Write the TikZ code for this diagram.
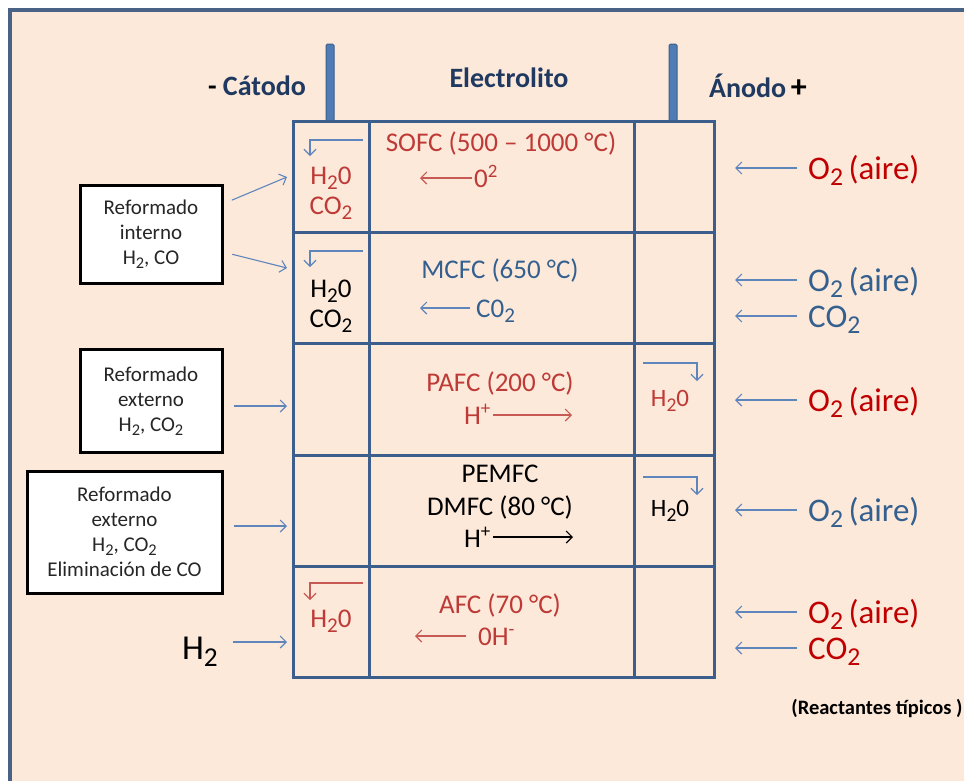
\documentclass[tikz,border=0pt]{standalone}
\usepackage{fontspec}
\usepackage{graphicx}
\setmainfont{Carlito}
\usetikzlibrary{arrows.meta,positioning}

\definecolor{fondo}{HTML}{FDE9DA}
\definecolor{marco}{HTML}{4A6285}
\definecolor{rejilla}{HTML}{3C5E8C}
\definecolor{poste}{HTML}{4F7CB5}
\definecolor{titulo}{HTML}{1F3960}
\definecolor{rojo}{HTML}{C00000}
\definecolor{rojocelda}{HTML}{BE3A36}
\definecolor{azultexto}{HTML}{34608F}
\definecolor{flechaazul}{HTML}{5F86BC}
\definecolor{flecharoja}{HTML}{C85A56}

% subíndice al estilo de Calibri (más grande y más bajo)
\newcommand{\bajo}[1]{\raisebox{-0.42ex}{\scalebox{0.78}{#1}}}

\begin{document}
\begin{tikzpicture}[
        x=1pt, y=-1pt,
        font=\fontsize{27}{30}\selectfont,
        cell/.style={draw=rejilla, line width=3pt, inner sep=0pt, anchor=north west, minimum height=111.2pt},
        reformbox/.style={draw=black, line width=3pt, fill=white, align=center, text=black!85, inner sep=0pt, font=\fontsize{21}{25}\selectfont},
        header/.style={font=\bfseries\fontsize{28}{30}\selectfont, text=titulo},
        reactivo/.style={font=\fontsize{33}{36}\selectfont, anchor=base west, inner sep=2pt},
        ion/.style={anchor=base west, inner sep=2pt},
        flecha/.style={-{Straight Barb[length=6pt,width=12pt]}, draw=flechaazul, line width=1.1pt},
        flecharoja/.style={flecha, draw=flecharoja},
    ]

    % Fondo y marco
    \useasboundingbox (0,0) rectangle (964,780);
    \fill[white] (0,0) rectangle (964,780);
    \fill[fondo] (10,10) rectangle (970,790);
    \draw[marco, line width=4pt] (10,790) |- (970,10);

    % Bornes de la pila
    \draw[rejilla, fill=poste, line width=1pt, rounded corners=1.5pt] (326,44) rectangle (334,121);
    \draw[rejilla, fill=poste, line width=1pt, rounded corners=1.5pt] (669,44) rectangle (677,121);

    % Rejilla: cátodo / electrolito / ánodo para cada pila
    \foreach \r in {1,...,5} {
        \pgfmathsetmacro{\ytop}{120 + 111.2*(\r-1)}
        \node[cell, minimum width=76pt] (cat-\r) at (292,\ytop) {};
        \node[cell, minimum width=265pt] (ele-\r) at (368,\ytop) {};
        \node[cell, minimum width=80pt] (ano-\r) at (633,\ytop) {};
    }

    % Títulos
    \node[header] (catodo) at (257,86) {\textcolor{black}{-} Cátodo};
    \node[header] (electrolito) at (509,78) {Electrolito};
    \node[header] (anodo) at (758,86) {Ánodo\,\textcolor{black}{\fontsize{32}{30}\selectfont +}};

    % SOFC
    \node[text=rojocelda] (sofc) at (501,143) {SOFC (500 – 1000 °C)};
    \node[ion, text=rojocelda] (sofc-ion) at (472,187) {0\textsuperscript{2}};
    \coordinate (sofc-fin) at (420,178);
    \draw[flecharoja] (sofc-ion.west |- sofc-fin) -- (sofc-fin);
    \node[text=rojocelda, align=center] (sofc-cat) at (331,193) {H\bajo{2}0\\CO\bajo{2}};
    \coordinate (sofc-a) at (363,140);
    \coordinate (sofc-b) at (310,156);
    \draw[flecha] (sofc-a) -| (sofc-b);

    % MCFC
    \node[text=azultexto] (mcfc) at (500,270) {MCFC (650 °C)};
    \node[ion, text=azultexto] (mcfc-ion) at (474,317) {C0\bajo{2}};
    \coordinate (mcfc-fin) at (420,308);
    \draw[flecha] (mcfc-ion.west |- mcfc-fin) ++(-4,0) -- (mcfc-fin);
    \node[text=black, align=center] (mcfc-cat) at (331,306) {H\bajo{2}0\\CO\bajo{2}};
    \coordinate (mcfc-a) at (363,251);
    \coordinate (mcfc-b) at (310,267);
    \draw[flecha] (mcfc-a) -| (mcfc-b);

    % PAFC
    \node[text=rojocelda] (pafc) at (500,383) {PAFC (200 °C)};
    \node[ion, text=rojocelda, anchor=base east] (pafc-ion) at (493,424) {H\textsuperscript{+}};
    \coordinate (pafc-fin) at (572,415);
    \draw[flecharoja] (pafc-ion.east |- pafc-fin) -- (pafc-fin);
    \node[text=rojocelda, font=\fontsize{25}{28}\selectfont] (pafc-ano) at (670,401) {H\bajo{2}0};
    \coordinate (pafc-a) at (643,363);
    \coordinate (pafc-b) at (697,381);
    \draw[flecha] (pafc-a) -| (pafc-b);

    % PEMFC / DMFC
    \node[text=black, align=center, font=\fontsize{27}{33}\selectfont] (pemfc) at (500,492) {PEMFC\\DMFC (80 °C)};
    \node[ion, text=black, anchor=base east] (pemfc-ion) at (493,547) {H\textsuperscript{+}};
    \coordinate (pemfc-fin) at (573,537);
    \draw[-{Straight Barb[length=6pt,width=12pt]}, line width=1.1pt] (pemfc-ion.east |- pemfc-fin) -- (pemfc-fin);
    \node[text=black, font=\fontsize{25}{28}\selectfont] (pemfc-ano) at (670,511) {H\bajo{2}0};
    \coordinate (pemfc-a) at (643,477);
    \coordinate (pemfc-b) at (697,495);
    \draw[flecha] (pemfc-a) -| (pemfc-b);

    % AFC
    \node[text=rojocelda] (afc) at (500,605) {AFC (70 °C)};
    \node[ion, text=rojocelda] (afc-ion) at (476,645) {0H\textsuperscript{-}};
    \coordinate (afc-fin) at (415,636);
    \draw[flecharoja] (afc-ion.west |- afc-fin) ++(-10,0) -- (afc-fin);
    \node[text=rojocelda] (afc-cat) at (331,621) {H\bajo{2}0};
    \coordinate (afc-a) at (363,583);
    \coordinate (afc-b) at (310,600);
    \draw[flecharoja] (afc-a) -| (afc-b);

    % Combustibles (izquierda)
    \node[reformbox, minimum width=142pt, minimum height=98pt] (ref-1) at (151,234) {Reformado\\interno\\H\bajo{2}, CO};
    \node[reformbox, minimum width=142pt, minimum height=103pt] (ref-2) at (151,401) {Reformado\\externo\\H\bajo{2}, CO\bajo{2}};
    \node[reformbox, minimum width=195pt, minimum height=122pt] (ref-3) at (124.5,532) {Reformado\\externo\\H\bajo{2}, CO\bajo{2}\\Eliminación de CO};
    \node[font=\fontsize{35}{38}\selectfont] (h2) at (200,652) {H\bajo{2}};

    \coordinate (in-1a) at (287,177);
    \coordinate (in-1b) at (287,268);
    \coordinate (in-3) at (287,406);
    \coordinate (in-4) at (287,526);
    \coordinate (in-5) at (287,642);
    \draw[flecha, shorten <=9pt] (ref-1) -- (in-1a);
    \draw[flecha, shorten <=9pt] (ref-1) -- (in-1b);
    \draw[flecha] (ref-2.east |- in-3) ++(10,0) -- (in-3);
    \draw[flecha] (ref-3.east |- in-4) ++(10,0) -- (in-4);
    \draw[flecha] (h2.east |- in-5) ++(12,0) -- (in-5);

    % Oxidantes (derecha)
    \foreach \y/\txt/\col [count=\i] in {
        168/O\bajo{2}\,(aire)/rojo,
        280/O\bajo{2}\,(aire)/azultexto,
        316/CO\bajo{2}/azultexto,
        400/O\bajo{2}\,(aire)/rojo,
        510/O\bajo{2}\,(aire)/azultexto,
        612/O\bajo{2}\,(aire)/rojo,
        648/CO\bajo{2}/rojo} {
        \node[reactivo, text=\col] (reac-\i) at (806,\y+11) {\txt};
        \coordinate (sal-\i) at (735,\y);
        \draw[flecha] (reac-\i.west |- sal-\i) ++(-9,0) -- (sal-\i);
    }

    \node[font=\bfseries\fontsize{20.5}{24}\selectfont] (tipicos) at (877,708) {(Reactantes típicos )};

\end{tikzpicture}
\end{document}
